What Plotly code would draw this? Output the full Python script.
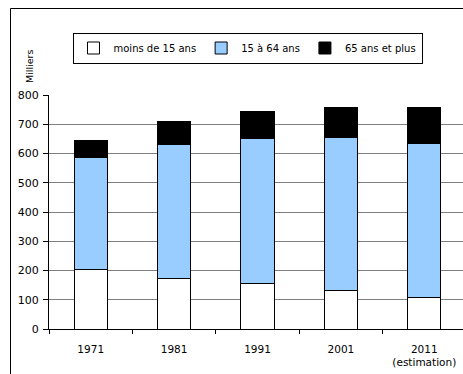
import plotly.graph_objects as go

# Population par groupe d'âge (milliers)
years = ["1971", "1981", "1991", "2001", "2011"]
tick_labels = ["1971", "1981", "1991", "2001", "2011<br>(estimation)"]
moins_15 = [203, 173, 155, 132, 107]
de_15_a_64 = [382, 459, 498, 524, 528]
plus_65 = [58, 76, 92, 102, 123]

series = [
    ("moins de 15 ans", moins_15, "#FFFFFF"),
    ("15 à 64 ans", de_15_a_64, "#99CCFF"),
    ("65 ans et plus", plus_65, "#000000"),
]

FONT = "DejaVu Sans, Verdana, sans-serif"

fig = go.Figure()
for name, values, color in series:
    fig.add_trace(go.Bar(
        x=years, y=values, name=name, width=0.4,
        marker=dict(color=color, line=dict(color="#000000", width=1)),
    ))

W, H = 463, 374
ML, MR, MT, MB = 49, 0, 95, 45
pw = W - ML - MR
ph = H - MT - MB

def px_x(x):
    return (x - ML) / pw

def px_y(y):
    return (H - MB - y) / ph

fig.update_layout(
    width=W, height=H,
    margin=dict(l=ML, r=MR, t=MT, b=MB),
    barmode="stack",
    bargap=0.6,
    paper_bgcolor="#FFFFFF",
    plot_bgcolor="#FFFFFF",
    font=dict(family=FONT, color="#000000", size=11),
    showlegend=True,
    legend=dict(
        orientation="h",
        x=px_x(247.5), xanchor="center",
        y=px_y(48), yanchor="middle",
        bgcolor="#FFFFFF",
        bordercolor="#000000", borderwidth=1,
        font=dict(size=10, family=FONT),
        itemwidth=30,
        traceorder="normal",
        itemclick=False,
    ),
    xaxis=dict(
        type="category",
        categoryorder="array", categoryarray=years,
        tickvals=years, ticktext=tick_labels,
        range=[-0.5, 4.464],
        tickson="boundaries",
        ticks="outside", ticklen=4, tickcolor="#000000",
        showline=True, linecolor="#000000", linewidth=1,
        showgrid=False,
        tickfont=dict(size=10.5),
        ticklabelstandoff=10,
    ),
    yaxis=dict(
        range=[0, 800], dtick=100,
        ticks="outside", ticklen=5, tickcolor="#000000",
        showline=True, linecolor="#000000", linewidth=1,
        showgrid=True, gridcolor="#7F7F7F", gridwidth=1,
        zeroline=False,
        tickfont=dict(size=11),
        ticklabelstandoff=2,
    ),
    annotations=[
        dict(
            text="Milliers", textangle=-90,
            x=px_x(29), y=px_y(66), xref="paper", yref="paper",
            xanchor="center", yanchor="middle", showarrow=False,
            font=dict(size=9.5, family=FONT),
        ),
    ],
    shapes=[
        dict(
            type="rect", xref="paper", yref="paper",
            x0=px_x(10.5), y0=px_y(8.5), x1=px_x(470), y1=px_y(380),
            line=dict(color="#000000", width=1),
            fillcolor="rgba(0,0,0,0)", layer="above",
        ),
    ],
)

fig.write_html("out.html")
